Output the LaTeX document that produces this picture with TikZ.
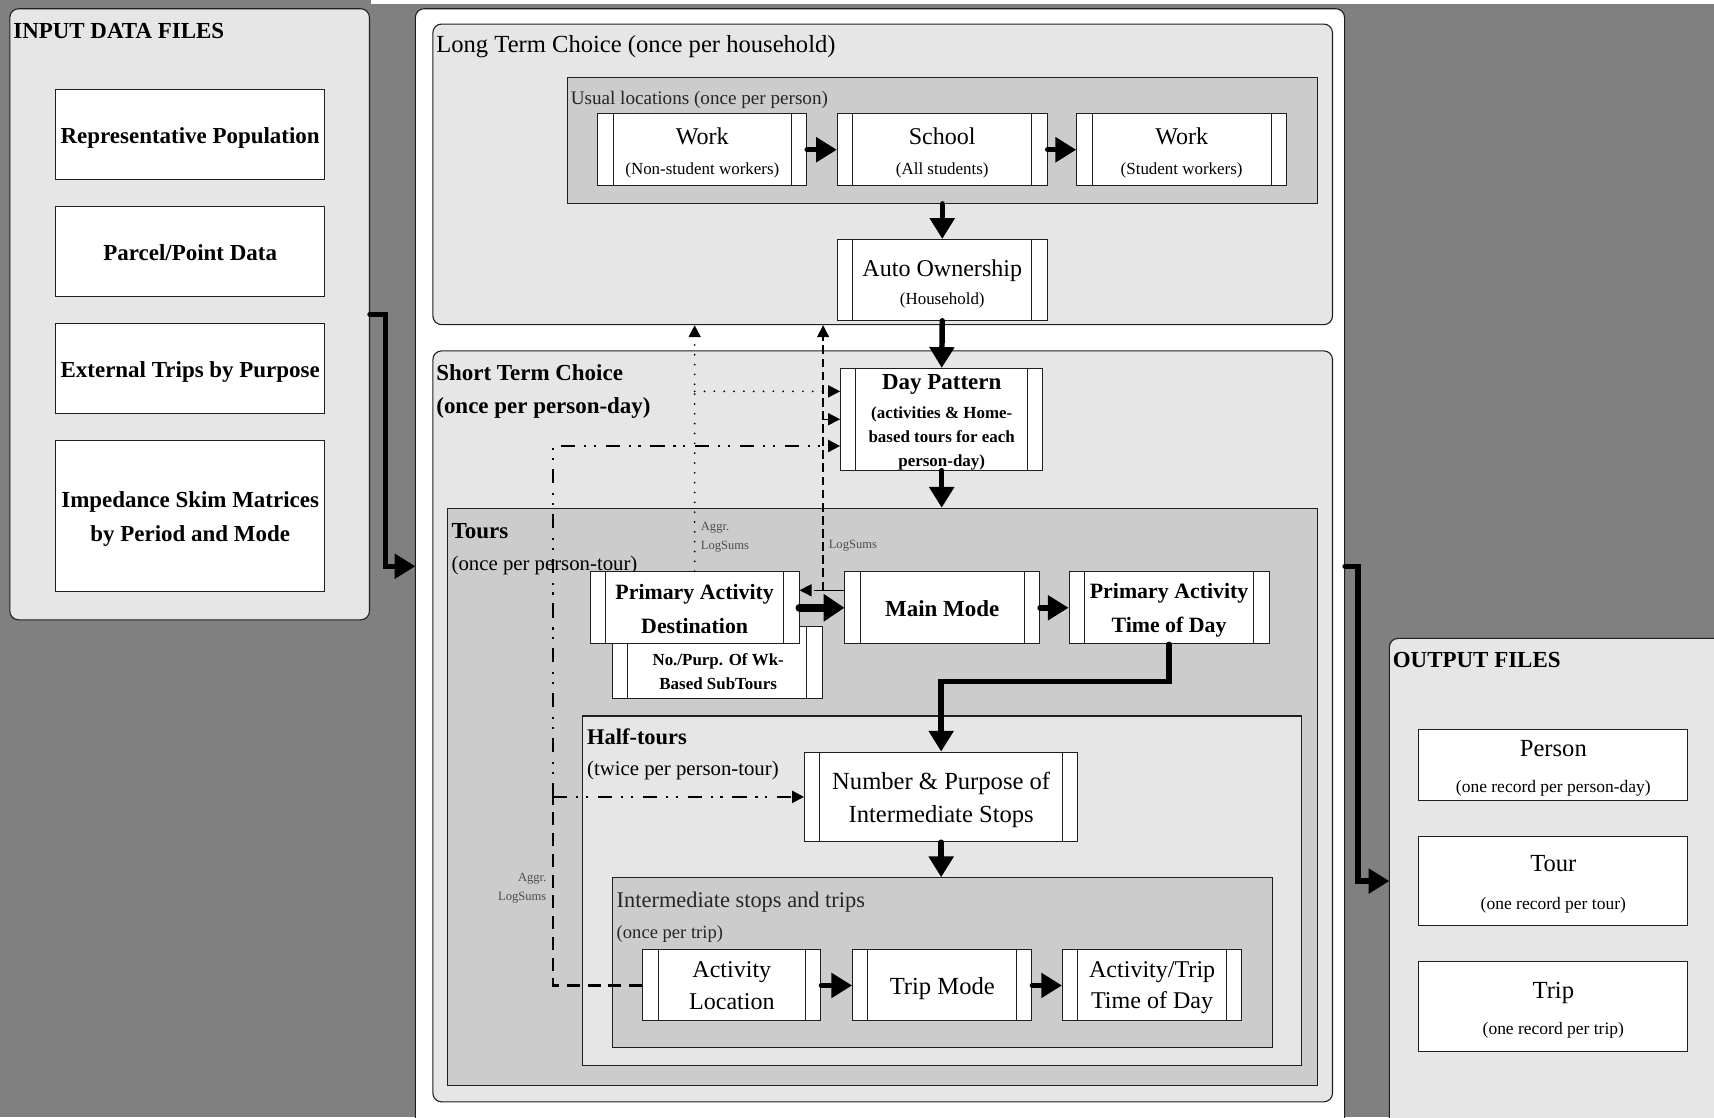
\documentclass[tikz,border=0pt]{standalone}
\usepackage{fontspec}
\setmainfont{Liberation Serif}
\usetikzlibrary{arrows.meta}

\definecolor{bgfill}{gray}{0.5}
\definecolor{panelfill}{gray}{0.902}
\definecolor{groupfill}{gray}{0.8}
\definecolor{edge}{gray}{0.12}
\definecolor{notegray}{gray}{0.3}

\tikzset{
  panel/.style={draw=edge, line width=1pt, fill=panelfill, rounded corners=8pt, inner sep=0pt},
  midpanel/.style={panel, fill=white},
  group/.style={draw=edge, line width=1pt, fill=groupfill, inner sep=0pt},
  subgroup/.style={group, fill=panelfill},
  filebox/.style={draw=edge, line width=0.9pt, fill=white, inner sep=0pt, minimum width=246pt},
  procbox/.style={draw=edge, line width=0.9pt, fill=white, inner sep=0pt,
    path picture={
      \draw[edge, line width=0.9pt]
        ([xshift=14pt]path picture bounding box.north west) -- ([xshift=14pt]path picture bounding box.south west)
        ([xshift=-14pt]path picture bounding box.north east) -- ([xshift=-14pt]path picture bounding box.south east);
    }},
  boxtext/.style={inner sep=0pt, align=center},
  heading/.style={inner sep=0pt, anchor=west, align=left},
  note/.style={inner sep=0pt, text=notegray, font=\fontsize{11.5}{17}\selectfont},
  flow/.style={draw=black, line width=5pt, line cap=round, -{Triangle[length=19pt,width=22pt]}},
  fatflow/.style={flow, line width=7.5pt, -{Triangle[length=19pt,width=24pt]}},
  elbow/.style={flow, line join=miter},
  tinyhead/.style={-{Triangle[length=11pt,width=11pt]}},
  dotline/.style={draw=black, line width=1.8pt, line cap=round, dash pattern=on 0pt off 9pt},
  dashline/.style={draw=black, line width=1.3pt, dash pattern=on 8pt off 4pt},
  dashdotline/.style={draw=black, line width=2pt, dash pattern=on 13pt off 8pt on 2pt off 7pt on 2pt off 9pt},
  heavydash/.style={draw=black, line width=2.4pt, dash pattern=on 12pt off 7pt},
}

\begin{document}
\begin{tikzpicture}[x=1pt,y=-1pt]
\useasboundingbox (0,0) rectangle (1568,1022);
\clip (0,0) rectangle (1568,1022);
\fill[bgfill] (0,0) rectangle (1568,1022);
\fill[white] (339,0) rectangle (1568,4);

% ---------- input files ----------
\node[panel, minimum width=329pt, minimum height=559pt] (inp) at (173.5,287.5) {};
\node[heading, font=\bfseries\fontsize{21}{24}\selectfont] (inptitle) at (12,28) {INPUT DATA FILES};
\node[filebox, minimum height=82pt] (rp) at (174,123) {};
\node[filebox, minimum height=82pt] (ppd) at (174,230) {};
\node[filebox, minimum height=82pt] (etp) at (174,337) {};
\node[filebox, minimum height=138pt] (isk) at (174,472) {};
\begin{scope}[every node/.append style={font=\bfseries\fontsize{21}{31}\selectfont}]
\node[boxtext] (rp-t) at ([yshift=-3pt]rp.center) {Representative Population};
\node[boxtext] (ppd-t) at ([yshift=-1pt]ppd.center) {Parcel/Point Data};
\node[boxtext] (etp-t) at ([yshift=-3pt]etp.center) {External Trips by Purpose};
\node[boxtext] (isk-t) at ([yshift=-3pt]isk.center) {Impedance Skim Matrices\\by Period and Mode};
\end{scope}

% ---------- model chain ----------
\node[midpanel, minimum width=850pt, minimum height=1052pt] (mid) at (805,534) {};
\coordinate (midin) at (380,518);
\coordinate (midout) at (mid.east |- midin);

% long term choice
\node[panel, minimum width=823pt, minimum height=275pt] (ltc) at (807.5,159.5) {};
\node[heading, font=\fontsize{22.5}{26}\selectfont] (ltctitle) at (399,43) {Long Term Choice (once per household)};
\node[group, minimum width=686pt, minimum height=115pt] (ul) at (862,128.5) {};
\node[heading, text=black!85, font=\fontsize{17.5}{20}\selectfont] (ultitle) at (522,91) {Usual locations (once per person)};
\node[procbox, minimum width=191pt, minimum height=66pt] (work1) at (642.5,137) {};
\node[procbox, minimum width=192pt, minimum height=66pt] (school) at (862,137) {};
\node[procbox, minimum width=192pt, minimum height=66pt] (work2) at (1081,137) {};
\node[procbox, minimum width=192pt, minimum height=74pt] (auto) at (862,256) {};
\begin{scope}[every node/.append style={font=\fontsize{22}{27}\selectfont}]
\node[boxtext] (work1-t) at ([yshift=-3pt]work1.center) {Work\\{\fontsize{15.5}{27}\selectfont (Non-student workers)}};
\node[boxtext] (school-t) at ([yshift=-3pt]school.center) {School\\{\fontsize{15.5}{27}\selectfont (All students)}};
\node[boxtext] (work2-t) at ([yshift=-3pt]work2.center) {Work\\{\fontsize{15.5}{27}\selectfont (Student workers)}};
\node[boxtext, font=\fontsize{22}{26}\selectfont] (auto-t) at ([yshift=-4pt]auto.center) {Auto Ownership\\{\fontsize{15.5}{26}\selectfont (Household)}};
\end{scope}

% short term choice
\node[panel, minimum width=823pt, minimum height=687pt] (stc) at (807.5,664.5) {};
\node[heading, font=\bfseries\fontsize{21}{30}\selectfont] (stctitle) at (399,358) {Short Term Choice\\(once per person-day)};
\node[procbox, minimum width=185pt, minimum height=93pt] (day) at (861.5,383.5) {};
\node[boxtext, font=\bfseries\fontsize{15.5}{22}\selectfont] (day-t) at ([yshift=-3pt]day.center)
  {{\fontsize{21}{22}\selectfont Day Pattern}\\[4pt](activities \& Home-\\based tours for each\\person-day)};

% tours
\node[group, minimum width=796pt, minimum height=528pt] (tours) at (807,729) {};
\node[heading, font=\fontsize{19}{29}\selectfont] (tourstitle) at (413,502.5)
  {{\bfseries\fontsize{21}{29}\selectfont Tours}\\(once per person-tour)};
\node[procbox, minimum width=192pt, minimum height=66pt] (sub) at (656,606) {};
\node[boxtext, font=\bfseries\fontsize{15.5}{22}\selectfont] (sub-t) at (657,614)
  {No./Purp. Of Wk-\\Based SubTours};
\node[procbox, minimum width=191pt, minimum height=66pt] (pad) at (635.5,556) {};
\node[procbox, minimum width=178pt, minimum height=66pt] (mm) at (862,556) {};
\node[procbox, minimum width=183pt, minimum height=66pt] (patod) at (1069.5,556) {};
\begin{scope}[every node/.append style={font=\bfseries\fontsize{20}{31}\selectfont}]
\node[boxtext] (pad-t) at ([yshift=-1pt]pad.center) {Primary Activity\\Destination};
\node[boxtext, font=\bfseries\fontsize{21}{31}\selectfont] (mm-t) at ([yshift=-1pt]mm.center) {Main Mode};
\node[boxtext] (patod-t) at ([yshift=-2pt]patod.center) {Primary Activity\\Time of Day};
\end{scope}

% half-tours
\node[subgroup, minimum width=658pt, minimum height=320pt] (half) at (862,815) {};
\node[heading, font=\fontsize{19}{29}\selectfont] (halftitle) at (537,690)
  {{\bfseries\fontsize{20.5}{29}\selectfont Half-tours}\\(twice per person-tour)};
\node[procbox, minimum width=250pt, minimum height=82pt] (nps) at (861,729) {};
\node[boxtext, font=\fontsize{22.5}{30}\selectfont] (nps-t) at ([yshift=-3pt]nps.center)
  {Number \& Purpose of\\Intermediate Stops};

% intermediate stops and trips
\node[group, minimum width=604pt, minimum height=155pt] (ist) at (862,880.5) {};
\node[heading, text=black!85, font=\fontsize{17}{29}\selectfont] (isttitle) at (564,839)
  {{\fontsize{20.5}{29}\selectfont Intermediate stops and trips}\\(once per trip)};
\node[procbox, minimum width=163pt, minimum height=65pt] (al) at (669.5,901.5) {};
\node[procbox, minimum width=164pt, minimum height=65pt] (tm) at (862,901.5) {};
\node[procbox, minimum width=164pt, minimum height=65pt] (attd) at (1054,901.5) {};
\begin{scope}[every node/.append style={font=\fontsize{22}{29}\selectfont}]
\node[boxtext] (al-t) at (al.center) {Activity\\Location};
\node[boxtext, font=\fontsize{22.5}{29}\selectfont] (tm-t) at ([yshift=-3pt]tm.center) {Trip Mode};
\node[boxtext] (attd-t) at ([yshift=-2pt]attd.center) {Activity/Trip\\Time of Day};
\end{scope}

% ---------- output files ----------
\node[panel, minimum width=329pt, minimum height=476pt] (outp) at (1435.5,822) {};
\coordinate (outin) at (1271,806);
\node[heading, font=\bfseries\fontsize{21}{24}\selectfont] (outtitle) at (1274,604) {OUTPUT FILES};
\node[filebox, minimum height=65pt] (person) at (1421,699.5) {};
\node[filebox, minimum height=82pt] (tour) at (1421,806) {};
\node[filebox, minimum height=82pt] (trip) at (1421,921) {};
\begin{scope}[every node/.append style={font=\fontsize{22.5}{33}\selectfont}]
\node[boxtext] (person-t) at ([yshift=-3.5pt]person.center) {Person\\{\fontsize{16}{33}\selectfont (one record per person-day)}};
\node[boxtext, font=\fontsize{22.5}{34}\selectfont] (tour-t) at ([yshift=-3pt]tour.center) {Tour\\{\fontsize{16}{34}\selectfont (one record per tour)}};
\node[boxtext] (trip-t) at ([yshift=-3pt]trip.center) {Trip\\{\fontsize{16}{33}\selectfont (one record per trip)}};
\end{scope}

% ---------- feedback connectors ----------
\coordinate (rowdot) at (0,358);
\coordinate (rowdd) at (0,408);
\coordinate (rowls) at (0,540);
\coordinate (rownp) at (0,729);
\coordinate (colls) at (753,0);
\coordinate (coldd) at (506,0);

% aggregate logsums from primary destination
\draw[dotline, tinyhead] (pad.north) -- (pad.north |- ltc.south);
\draw[dotline, tinyhead] (pad.north |- rowdot) -- (day.west |- rowdot);
\node[note, anchor=west, align=left] (aggrA) at (641,491.5) {Aggr.\\LogSums};

% mode logsums
\draw[black, line width=1.3pt] (mm.west |- rowls) -- (colls |- rowls);
\draw[dashline, tinyhead] (colls |- rowls) -- (pad.east |- rowls);
\draw[dashline, tinyhead] (colls |- rowls) -- (colls |- ltc.south);
\draw[dashline, tinyhead] (colls |- day.west) -- (day.west);
\node[note, anchor=west] (lsB) at (758,499) {LogSums};

% aggregate logsums from stop location
\draw[heavydash] (al.west) -- (coldd |- al.west) -- (coldd |- rownp);
\draw[dashdotline, tinyhead] (coldd |- rownp) -- (coldd |- rowdd) -- (day.west |- rowdd);
\draw[dashdotline, tinyhead] (coldd |- rownp) -- (nps.west);
\node[note, anchor=east, align=right] (aggrC) at (500,812.5) {Aggr.\\LogSums};

% ---------- main flow ----------
\draw[elbow] (inp.east) -- ++(14,0) |- (midin);
\draw[elbow] (midout) -- ++(12,0) |- (outin);
\draw[flow] (work1) -- (school);
\draw[flow] (school) -- (work2);
\draw[flow] (ul.south) -- (auto.north);
\draw[flow] (auto.south) -- (day.north);
\draw[flow] (day.south) -- (tours.north -| day.south);
\draw[fatflow] (pad) -- (mm);
\draw[flow] (mm) -- (patod);
\draw[elbow] (patod.south) -- ++(0,34) -| (nps.north);
\draw[flow] (nps.south) -- (ist.north -| nps.south);
\draw[flow] (al) -- (tm);
\draw[flow] (tm) -- (attd);
\end{tikzpicture}
\end{document}
